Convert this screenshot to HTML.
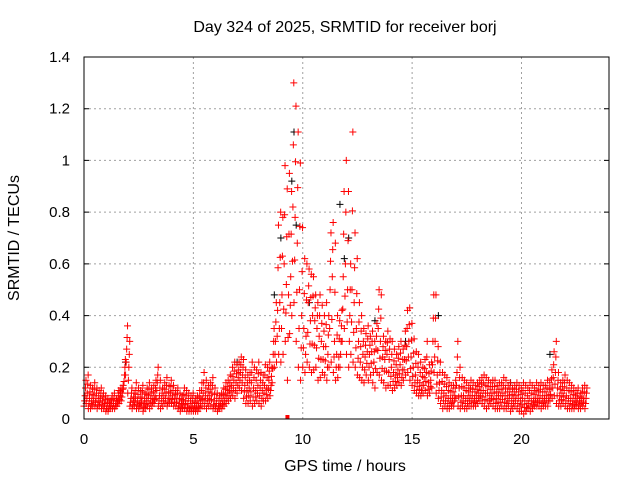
<!DOCTYPE html>
<html><head><meta charset="utf-8"><style>
body{margin:0;background:#fff}
svg{display:block;font-family:"Liberation Sans",sans-serif}
</style></head><body>
<svg id="chart" width="640" height="480" viewBox="0 0 640 480">
<rect width="640" height="480" fill="#fff"/>
<text x="345" y="32" font-size="16" text-anchor="middle" fill="#000">Day 324 of 2025, SRMTID for receiver borj</text>
<text x="345" y="471" font-size="16" text-anchor="middle" fill="#000">GPS time / hours</text>
<text x="0" y="0" font-size="16" text-anchor="middle" fill="#000" transform="translate(19,238) rotate(-90)">SRMTID / TECUs</text>
<g id="grid"></g>
<g id="ticks"></g>
<g id="black"></g>
<g id="red"></g>
<rect x="84" y="57" width="525" height="362" fill="none" stroke="#000" stroke-width="1"/>
</svg>
<script>
const xTicks=[0,5,10,15,20];
const yTicks=[0,0.2,0.4,0.6,0.8,1,1.2,1.4];
const yTickLabels=["0","0.2","0.4","0.6","0.8","1","1.2","1.4"];
const times=[0,0.1,0.2,0.3,0.4,0.5,0.6,0.7,0.8,0.9,1,1.1,1.2,1.3,1.4,1.5,1.6,1.7,1.8,1.9,2,2.1,2.2,2.3,2.4,2.5,2.6,2.7,2.8,2.9,3,3.1,3.2,3.3,3.4,3.5,3.6,3.7,3.8,3.9,4,4.1,4.2,4.3,4.4,4.5,4.6,4.7,4.8,4.9,5,5.1,5.2,5.3,5.4,5.5,5.6,5.7,5.8,5.9,6,6.1,6.2,6.3,6.4,6.5,6.6,6.7,6.8,6.9,7,7.1,7.2,7.3,7.4,7.5,7.6,7.7,7.8,7.9,8,8.1,8.2,8.3,8.4,8.5,8.6,8.7,8.8,8.9,9,9.1,9.2,9.3,9.4,9.5,9.6,9.7,9.8,9.9,10,10.1,10.2,10.3,10.4,10.5,10.6,10.7,10.8,10.9,11,11.1,11.2,11.3,11.4,11.5,11.6,11.7,11.8,11.9,12,12.1,12.2,12.3,12.4,12.5,12.6,12.7,12.8,12.9,13,13.1,13.2,13.3,13.4,13.5,13.6,13.7,13.8,13.9,14,14.1,14.2,14.3,14.4,14.5,14.6,14.7,14.8,14.9,15,15.1,15.2,15.3,15.4,15.5,15.6,15.7,15.8,15.9,16,16.1,16.2,16.3,16.4,16.5,16.6,16.7,16.8,16.9,17,17.1,17.2,17.3,17.4,17.5,17.6,17.7,17.8,17.9,18,18.1,18.2,18.3,18.4,18.5,18.6,18.7,18.8,18.9,19,19.1,19.2,19.3,19.4,19.5,19.6,19.7,19.8,19.9,20,20.1,20.2,20.3,20.4,20.5,20.6,20.7,20.8,20.9,21,21.1,21.2,21.3,21.4,21.5,21.6,21.7,21.8,21.9,22,22.1,22.2,22.3,22.4,22.5,22.6,22.7,22.8,22.9];
const redHigh=[.15,.17,.13,.12,.14,.12,.11,.12,.10,.09,
.08,.07,.09,.10,.08,.11,.12,.13,.23,.36,
.30,.12,.10,.14,.12,.11,.13,.10,.12,.14,
.12,.13,.15,.20,.15,.12,.14,.16,.13,.15,
.13,.11,.12,.10,.09,.12,.11,.10,.09,.10,
.08,.09,.11,.14,.18,.15,.13,.14,.16,.12,
.10,.09,.10,.12,.14,.15,.17,.20,.22,.21,
.22,.24,.23,.19,.17,.18,.22,.20,.19,.22,
.18,.17,.21,.20,.22,.20,.35,.45,.75,.80,
.78,.98,.89,.95,.88,1.30,1.21,1.11,.99,.74,
.62,.60,.58,.56,.55,.48,.45,.48,.44,.40,
.45,.40,.72,.76,.68,.40,.38,.42,.88,1.00,
.88,.60,1.11,.72,.62,.45,.40,.35,.33,.36,
.32,.34,.30,.37,.50,.48,.32,.30,.34,.31,
.30,.27,.25,.28,.30,.27,.34,.42,.43,.37,
.31,.26,.25,.22,.20,.23,.30,.21,.22,.48,
.48,.28,.22,.18,.17,.16,.14,.13,.13,.15,
.30,.20,.16,.15,.14,.13,.15,.14,.13,.14,
.15,.16,.17,.16,.15,.14,.15,.15,.13,.14,
.14,.16,.15,.13,.14,.12,.13,.14,.13,.12,
.14,.13,.12,.14,.13,.12,.14,.13,.14,.13,
.13,.15,.14,.19,.26,.30,.18,.14,.15,.17,
.15,.14,.13,.12,.11,.12,.10,.12,.13,.12];
const redMid=[.09,.10,.08,.07,.09,.08,.07,.08,.07,.06,
.05,.05,.06,.06,.06,.07,.09,.10,.17,.27,
.20,.08,.07,.08,.07,.06,.08,.06,.07,.09,
.08,.08,.09,.14,.09,.08,.09,.10,.08,.10,
.09,.08,.08,.06,.06,.07,.07,.06,.05,.06,
.05,.05,.06,.08,.10,.09,.08,.09,.10,.07,
.06,.05,.06,.07,.09,.10,.11,.13,.15,.14,
.16,.18,.17,.13,.11,.12,.14,.12,.11,.13,
.12,.11,.13,.12,.15,.13,.25,.30,.42,.45,
.48,.60,.52,.48,.55,.82,.78,.68,.50,.40,
.35,.32,.45,.38,.40,.38,.35,.32,.30,.28,
.28,.25,.50,.55,.30,.25,.24,.30,.55,.60,
.50,.40,.50,.45,.35,.30,.28,.25,.24,.26,
.25,.26,.22,.27,.35,.30,.24,.23,.25,.23,
.20,.18,.17,.19,.21,.19,.23,.28,.30,.24,
.20,.17,.15,.14,.13,.16,.18,.14,.15,.30,
.30,.17,.14,.11,.10,.09,.08,.08,.08,.09,
.18,.12,.09,.09,.08,.08,.09,.09,.08,.09,
.10,.11,.11,.10,.10,.09,.10,.10,.08,.09,
.09,.10,.09,.08,.09,.07,.08,.09,.08,.07,
.08,.07,.06,.08,.07,.07,.08,.08,.09,.08,
.08,.09,.09,.12,.16,.18,.12,.09,.10,.11,
.09,.08,.08,.07,.07,.08,.07,.08,.08,.08];
const redLow=[.05,.06,.04,.04,.05,.05,.04,.05,.04,.04,
.03,.03,.04,.04,.04,.05,.06,.07,.12,.17,
.10,.05,.04,.05,.04,.04,.05,.03,.04,.05,
.04,.05,.06,.08,.05,.04,.05,.06,.05,.06,
.06,.05,.05,.04,.03,.04,.04,.03,.03,.03,
.03,.03,.03,.04,.05,.05,.04,.05,.05,.04,
.04,.03,.04,.04,.05,.06,.07,.08,.09,.08,
.10,.12,.11,.08,.06,.06,.07,.05,.06,.07,
.06,.05,.07,.07,.08,.09,.14,.20,.22,.25,
.22,.25,.30,.15,.33,.40,.45,.30,.20,.15,
.20,.18,.22,.20,.18,.19,.20,.15,.16,.18,
.17,.15,.20,.22,.18,.15,.16,.20,.30,.35,
.25,.20,.25,.22,.20,.17,.16,.15,.14,.17,
.15,.17,.14,.12,.18,.17,.15,.14,.12,.13,
.13,.11,.12,.13,.14,.13,.15,.17,.18,.15,
.13,.11,.10,.09,.09,.10,.11,.09,.10,.12,
.18,.10,.08,.06,.04,.05,.04,.04,.05,.05,
.08,.05,.04,.05,.04,.04,.05,.05,.05,.05,
.06,.07,.06,.05,.04,.05,.06,.05,.04,.04,
.04,.05,.04,.04,.05,.03,.04,.05,.04,.03,
.03,.02,.03,.04,.03,.04,.05,.05,.05,.04,
.05,.05,.05,.07,.08,.09,.06,.05,.05,.06,
.05,.04,.04,.04,.04,.05,.04,.04,.05,.04];
const blackTimes=[1.9,7.0,8.7,9.0,9.5,9.6,9.7,10.3,11.7,11.9,12.1,13.3,14.7,16.2,19.5,21.3];
const blackValues=[0.22,0.22,0.48,0.7,0.92,1.11,0.75,0.45,0.83,0.62,0.7,0.38,0.3,0.4,0.14,0.25];
const zeroMarkTimes=[9.3];

const L=84,R=609,T=57,B=419,XMAX=24,YMAX=1.4;
const xs=v=>L+(v/XMAX)*(R-L);
const ys=v=>B-(v/YMAX)*(B-T);
const NS='http://www.w3.org/2000/svg';
const grid=document.getElementById('grid'),ticks=document.getElementById('ticks');
xTicks.forEach(v=>{
  const x=xs(v);
  if(v>0){const g=document.createElementNS(NS,'line');
  g.setAttribute('x1',x);g.setAttribute('x2',x);g.setAttribute('y1',T);g.setAttribute('y2',B);
  g.setAttribute('stroke','#a0a0a0');g.setAttribute('stroke-dasharray','2,3');
  
  
  grid.appendChild(g);}
  const t=document.createElementNS(NS,'text');
  t.setAttribute('x',x);t.setAttribute('y',444);t.setAttribute('font-size','15');t.setAttribute('text-anchor','middle');
  t.textContent=v;
  
  
  ticks.appendChild(t);
});
yTicks.forEach((v,i)=>{
  const y=ys(v);
  if(v>0&&v<YMAX){const g=document.createElementNS(NS,'line');
  g.setAttribute('x1',L);g.setAttribute('x2',R);g.setAttribute('y1',y);g.setAttribute('y2',y);
  g.setAttribute('stroke','#a0a0a0');g.setAttribute('stroke-dasharray','2,3');
  
  
  grid.appendChild(g);
  const tk=document.createElementNS(NS,'path');
  tk.setAttribute('d','M'+L+' '+y+'h5M'+R+' '+y+'h-5');tk.setAttribute('stroke','#000');
  
  
  ticks.appendChild(tk);}
  const t=document.createElementNS(NS,'text');
  t.setAttribute('x',70);t.setAttribute('y',y+5);t.setAttribute('font-size','15');t.setAttribute('text-anchor','end');
  t.textContent=yTickLabels[i];
  
  
  ticks.appendChild(t);
});
function plus(g,t,v,color,name){
  const x=xs(t),y=ys(v);
  const p=document.createElementNS(NS,'path');
  p.setAttribute('d','M'+(x-3.5)+' '+y+'h7M'+x+' '+(y-3.5)+'v7');
  p.setAttribute('stroke',color);p.setAttribute('stroke-width','1');
  
  
  g.appendChild(p);
}
const bg=document.getElementById('black'),rg=document.getElementById('red');
blackTimes.forEach((t,i)=>plus(bg,t,blackValues[i],'#000','black-point'));
times.forEach((t,i)=>{
  const lo=redLow[i],mi=redMid[i],hi=redHigh[i];
  plus(rg,t,lo,'#f00','red-point');
  plus(rg,t+0.03,(lo+mi)/2,'#f00','red-point');
  plus(rg,t+0.05,mi,'#f00','red-point');
  plus(rg,t+0.07,(mi+hi)/2,'#f00','red-point');
  plus(rg,t+0.09,hi,'#f00','red-point');
});
zeroMarkTimes.forEach(t=>{
  const r=document.createElementNS(NS,'rect');
  r.setAttribute('x',xs(t)-2);r.setAttribute('y',ys(0)-4);r.setAttribute('width',4);r.setAttribute('height',4);
  r.setAttribute('fill','#f00');
  
  
  rg.appendChild(r);
});
</script>
</body></html>
